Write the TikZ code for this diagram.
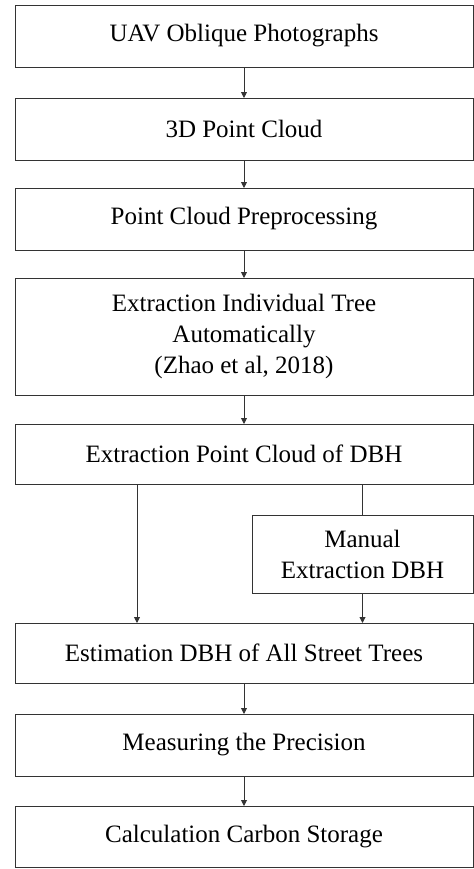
\documentclass[tikz,border=0pt]{standalone}
\usepackage{fontspec}
\setmainfont{Liberation Serif}
\usetikzlibrary{positioning,arrows.meta}
\definecolor{linegray}{HTML}{333333}

\begin{document}
\begin{tikzpicture}[x=0.5pt,y=-0.5pt,
      box/.style={draw=linegray,line width=0.5pt,minimum width=229pt,minimum height=31pt,
          align=center,inner sep=0pt,outer sep=0pt,anchor=north west,
          font=\fontsize{12.5}{15.5}\selectfont},
      arr/.style={-{Triangle[length=3pt,width=3pt]},linegray,line width=0.45pt}]
    \useasboundingbox (0,0) rectangle (474,869);
    \node[box] (uav) at (15,5) {UAV Oblique Photographs};
    \node[box] (cloud) at (15,98) {3D Point Cloud};
    \node[box] (prep) at (15,188) {Point Cloud Preprocessing};
    \node[box,minimum height=58.5pt] (indiv) at (15,278) {Extraction Individual Tree\\Automatically\\(Zhao et al, 2018)};
    \node[box,minimum height=30pt] (dbh) at (15,424) {Extraction Point Cloud of DBH};
    \node[box,minimum width=110.5pt,minimum height=39pt] (manual) at (252,515) {Manual\\Extraction DBH};
    \node[box,minimum height=30pt] (est) at (15,623) {Estimation DBH of All Street Trees};
    \node[box] (prec) at (15,714) {Measuring the Precision};
    \node[box,minimum height=30.5pt] (carbon) at (15,806) {Calculation Carbon Storage};
    % main column
    \draw[arr] (uav) -- (cloud);
    \draw[arr] (cloud) -- (prep);
    \draw[arr] (prep) -- (indiv);
    \draw[arr] (indiv) -- (dbh);
    \draw[arr] ([xshift=61pt]dbh.south west) -- ([xshift=61pt]est.north west);
    \draw[linegray,line width=0.45pt] (dbh.south -| manual.north) -- (manual.north);
    \draw[arr] (manual.south) -- (est.north -| manual.south);
    \draw[arr] (est) -- (prec);
    \draw[arr] (prec) -- (carbon);
  \end{tikzpicture}
\end{document}
